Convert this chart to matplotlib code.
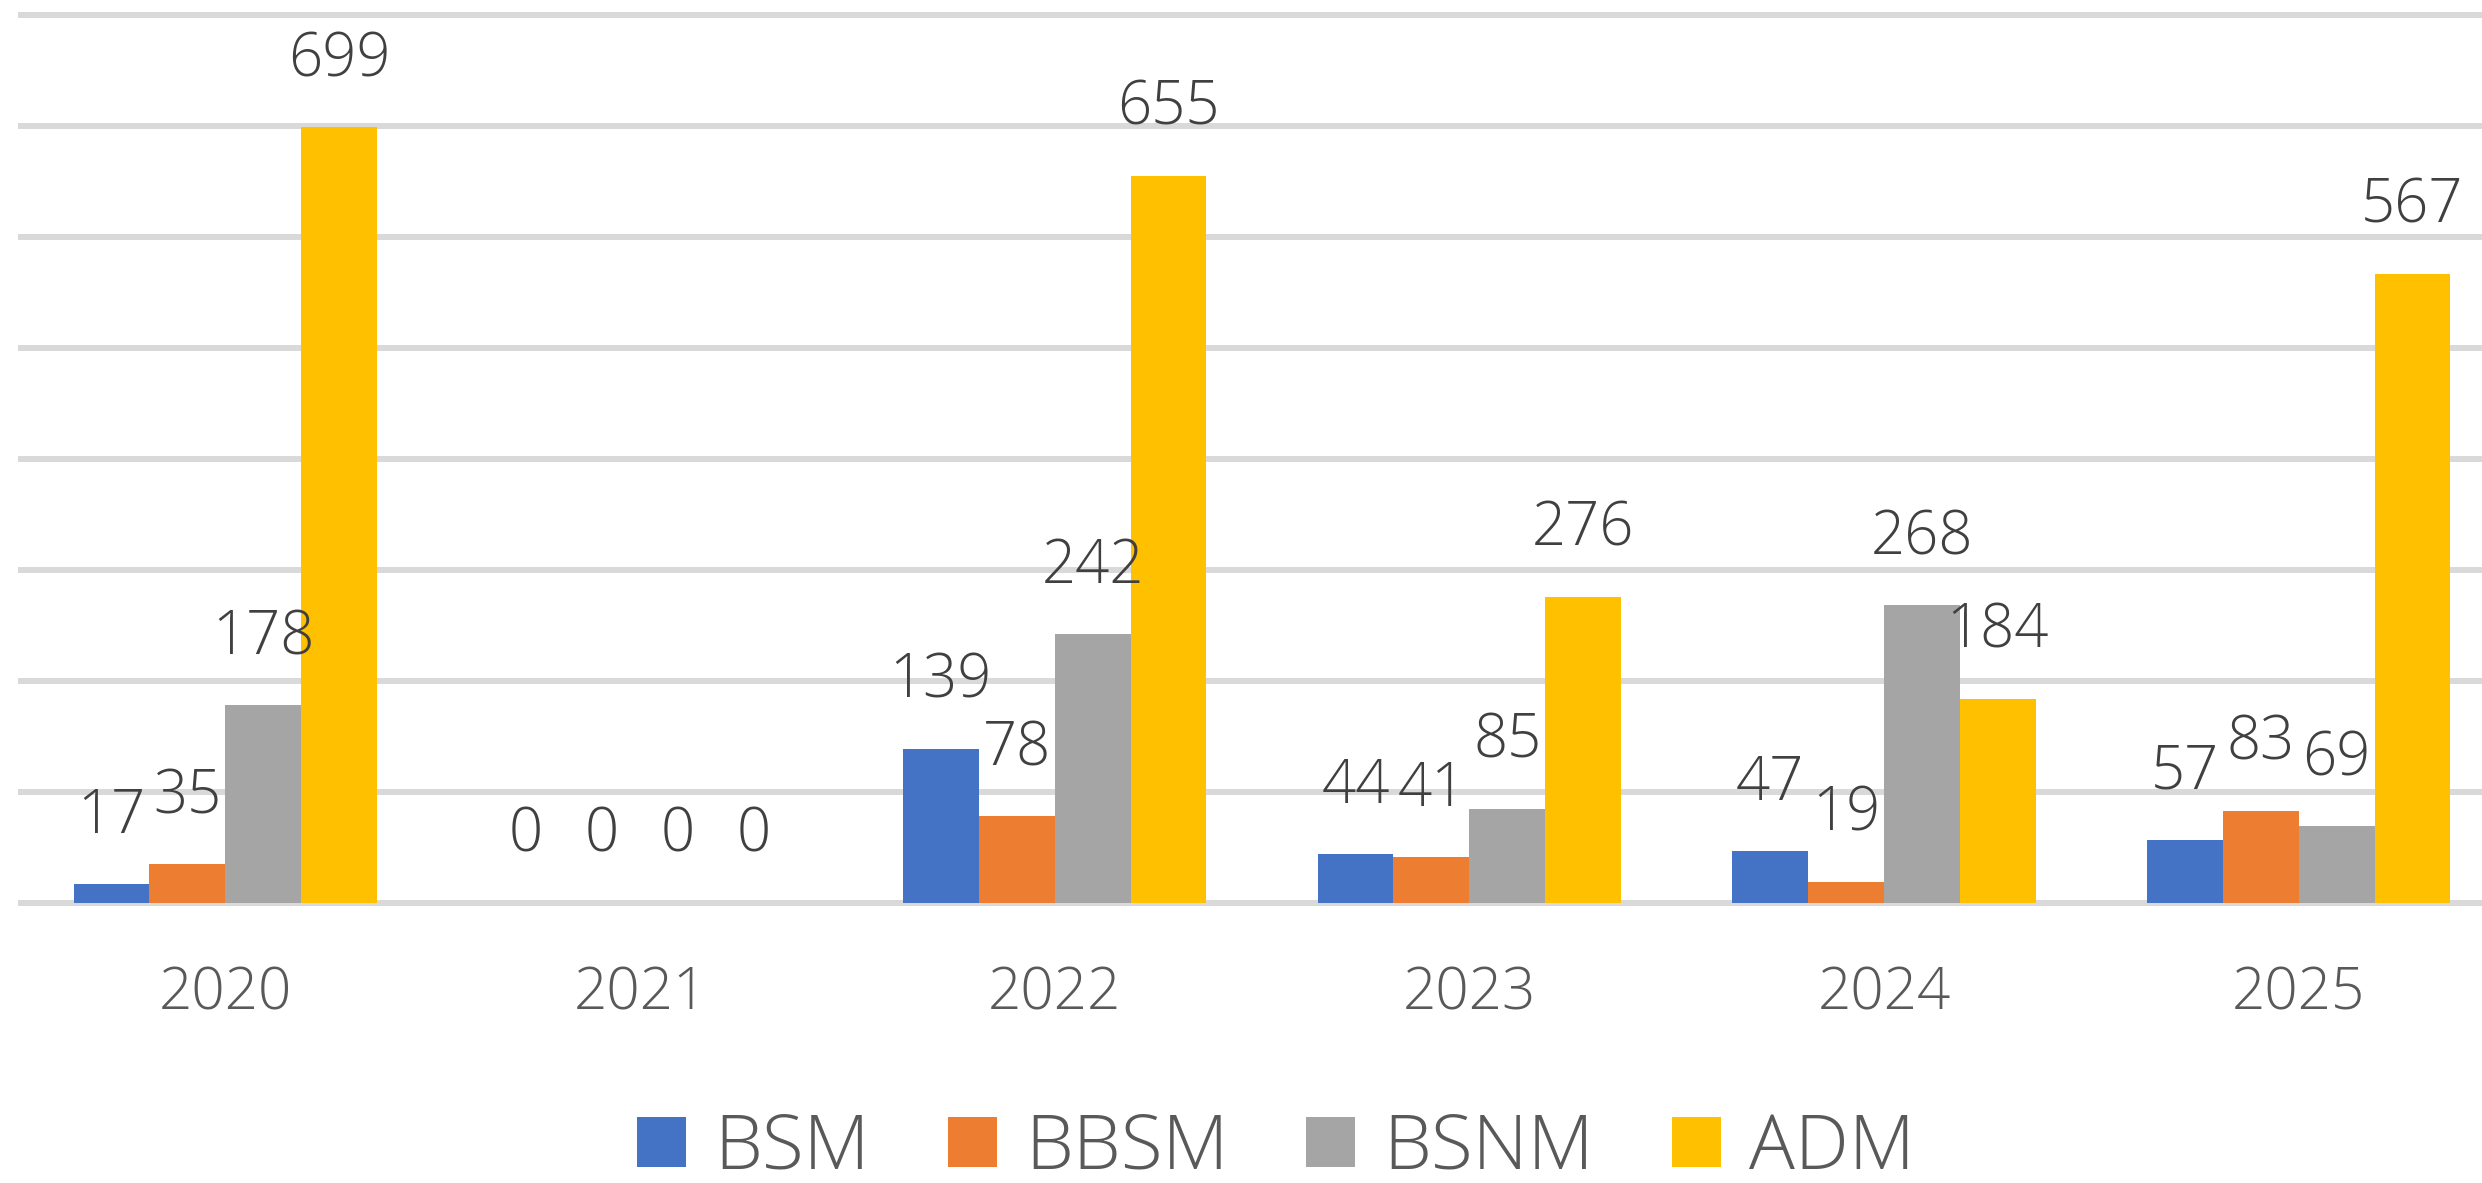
import matplotlib
matplotlib.use("Agg")
import matplotlib.pyplot as plt
from matplotlib.patches import Patch
from matplotlib import font_manager
import numpy as np

plt.rcParams['font.family'] = ['Open Sans', 'DejaVu Sans']
# use a lighter weight if one is installed (closer to the thin Calibri look)
_weights = {f.weight for f in font_manager.fontManager.ttflist if f.name == 'Open Sans'}
print(sorted(map(str, _weights)))
plt.rcParams['font.weight'] = 'light' if any(str(w) in ('300', 'light') for w in _weights) else 'normal'

years = ["2020", "2021", "2022", "2023", "2024", "2025"]
series_names = ["BSM", "BBSM", "BSNM", "ADM"]
bsm = [17, 0, 139, 44, 47, 57]
bbsm = [35, 0, 78, 41, 19, 83]
bsnm = [178, 0, 242, 85, 268, 69]
adm = [699, 0, 655, 276, 184, 567]
colors = ["#4472C4", "#ED7D31", "#A5A5A5", "#FFC000"]

W, H = 2482, 1183
fig = plt.figure(figsize=(W / 100, H / 100), dpi=100)
fig.patch.set_facecolor("white")

ax_left_px, ax_width_px = 18, 2488
ax_top_px, ax_bot_px = 9.45, 907.4
ax = fig.add_axes([ax_left_px / W, (H - ax_bot_px) / H,
                   ax_width_px / W, (ax_bot_px - ax_top_px) / H])

x = np.arange(len(years))
bw = 0.183
data = [bsm, bbsm, bsnm, adm]
for i, (vals, c) in enumerate(zip(data, colors)):
    pos = x + (i - 1.5) * bw
    ax.bar(pos, vals, width=bw, color=c, zorder=3, linewidth=0)
    for xp, v in zip(pos, vals):
        ax.annotate(str(v), xy=(xp, v), xytext=(0, 51), textcoords="offset pixels",
                    ha="center", va="baseline", fontsize=43, color="#404040", zorder=4)

ax.set_xlim(-0.5, 5.5)
ax.set_ylim(-4, 805)
ax.set_yticks(np.arange(0, 801, 100))
ax.yaxis.grid(True, color="#D9D9D9", linewidth=4.3, zorder=0)
ax.set_axisbelow(True)
ax.tick_params(axis="y", left=False, labelleft=False)
ax.set_xticks(x)
ax.set_xticklabels(years)
ax.tick_params(axis="x", length=0, pad=41, labelsize=42, labelcolor="#595959")
for s in ax.spines.values():
    s.set_visible(False)

handles = [Patch(facecolor=c, edgecolor="none", label=n) for c, n in zip(colors, series_names)]
fs = 55
leg = fig.legend(handles=handles, loc="center", bbox_to_anchor=(1276 / W, 1 - 1149 / H),
                 ncol=4, frameon=False, fontsize=fs, handlelength=49 / (fs * 1.389),
                 handleheight=49 / (fs * 1.389), handletextpad=28 / (fs * 1.389),
                 columnspacing=78 / (fs * 1.389), borderpad=0, borderaxespad=0)
for t in leg.get_texts():
    t.set_color("#595959")

fig.savefig("out.png", dpi=100, facecolor="white")
